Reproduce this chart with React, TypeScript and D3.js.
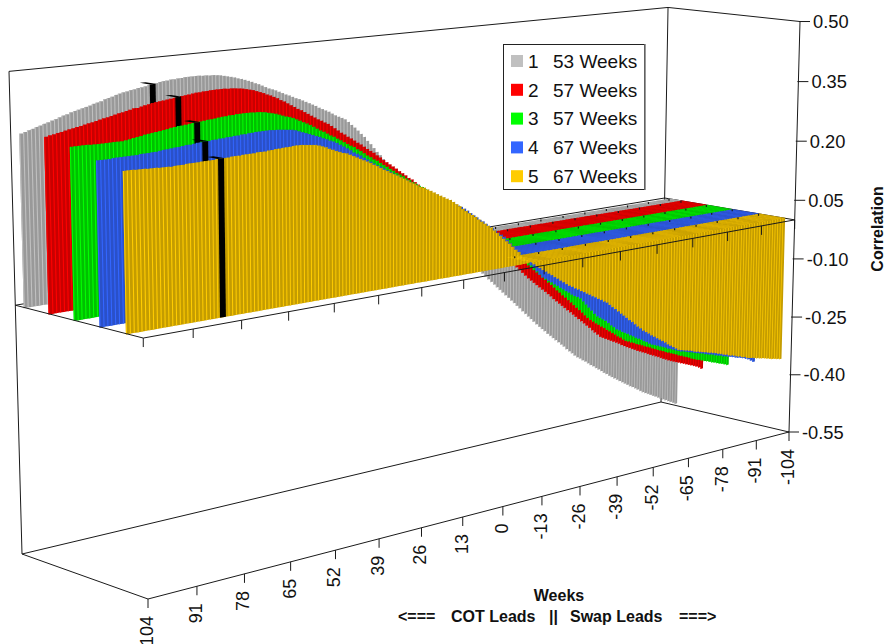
import React from "react";
import * as d3 from "d3";

const FONT = "'Liberation Sans', Arial, sans-serif";

const legendIds = ["1", "2", "3", "4", "5"];
const legendLabels = ["53 Weeks", "57 Weeks", "57 Weeks", "67 Weeks", "67 Weeks"];
const faceColors = ["#999999", "#C80000", "#00C000", "#2A50C8", "#C49C00"];
const lightColors = ["#C0C0C0", "#FF0000", "#00FF00", "#3366FF", "#FFCC00"];
const rowDepths = [0.085, 0.285, 0.485, 0.685, 0.885];
const markerWeeks = [69, 69, 71, 76, 79];
const weekTicks = [104, 91, 78, 65, 52, 39, 26, 13, 0, -13, -26, -39, -52, -65, -78, -91, -104];
const corrTicks = [0.5, 0.35, 0.2, 0.05, -0.1, -0.25, -0.4, -0.55];
const stripTickWeeks = [-16, -24, -32, -40, -48, -56, -64, -72, -80, -88, -96, -104];

// correlation x 1000, week 104 down to week -104
const series1 = [
373,375,378,380,383,385,388,390,393,395,398,401,403,
406,408,410,412,414,416,419,421,423,426,428,430,433,
435,437,438,440,441,443,444,445,447,448,449,451,452,
453,454,454,455,455,456,456,456,456,456,455,455,454,
454,453,452,450,448,446,444,441,439,436,433,430,426,
423,419,415,411,408,405,401,397,393,390,386,382,379,
375,371,367,363,359,354,350,346,342,337,332,328,324,
320,313,305,298,290,281,273,263,254,244,234,225,215,
205,196,187,179,170,161,151,142,133,124,115,105,97,
88,77,66,56,45,34,23,13,2,-9,-20,-31,-41,
-52,-60,-68,-77,-85,-93,-101,-110,-118,-126,-134,-142,-150,
-158,-166,-174,-182,-190,-198,-206,-215,-223,-231,-239,-247,-255,
-263,-270,-277,-285,-292,-299,-306,-313,-320,-327,-335,-342,-349,
-356,-362,-367,-373,-378,-384,-390,-395,-401,-406,-412,-418,-423,
-429,-434,-439,-444,-449,-454,-459,-464,-469,-473,-478,-483,-488,
-493,-497,-501,-505,-509,-513,-517,-521,-525,-529,-533,-537,-541,-545];
const series2 = [
376,378,379,381,382,384,386,387,389,390,392,394,395,
397,399,401,402,404,406,408,409,411,413,415,415,417,
419,420,422,423,424,425,426,427,428,429,430,431,432,
433,434,434,435,435,436,436,436,436,436,435,435,434,
433,432,430,428,426,423,420,417,413,410,406,402,397,
393,388,383,378,373,369,364,359,354,349,344,340,335,
331,325,319,313,307,302,296,291,285,279,274,268,262,
256,251,244,238,231,225,219,213,207,200,194,188,181,
176,169,162,155,148,141,135,129,122,115,108,101,95,
88,81,73,66,59,52,45,38,31,23,17,10,2,
-5,-13,-21,-29,-37,-45,-53,-61,-69,-77,-85,-93,-101,
-109,-116,-123,-130,-137,-144,-151,-158,-165,-173,-180,-187,-194,
-201,-208,-215,-222,-229,-236,-243,-250,-257,-264,-272,-279,-286,
-293,-297,-301,-305,-309,-313,-317,-321,-326,-330,-334,-338,-342,
-346,-350,-353,-357,-360,-364,-368,-371,-375,-378,-382,-386,-389,
-393,-396,-399,-402,-405,-408,-411,-414,-417,-420,-423,-426,-430,-435];
const series3 = [
365,365,365,365,365,364,364,364,364,364,364,364,364,
364,365,366,368,369,370,372,373,374,375,376,377,378,
380,381,382,382,383,384,385,385,386,387,388,388,389,
390,391,391,392,392,393,393,393,393,393,392,392,391,
390,388,386,384,381,378,375,373,370,366,362,358,354,
350,345,340,335,331,326,321,317,312,307,302,297,292,
288,282,277,271,265,260,254,250,244,238,233,227,222,
216,211,206,200,195,189,184,178,174,168,162,157,151,
146,140,135,129,123,117,110,104,98,93,87,81,74,
68,61,54,48,41,34,27,20,13,6,-2,-9,-17,
-25,-32,-39,-46,-53,-60,-67,-74,-81,-89,-96,-104,-111,
-119,-127,-134,-142,-149,-157,-164,-172,-180,-187,-195,-203,-211,
-218,-223,-229,-234,-240,-245,-251,-256,-262,-267,-273,-278,-284,
-289,-292,-296,-299,-303,-306,-309,-313,-316,-319,-323,-326,-330,
-333,-336,-340,-343,-346,-349,-352,-356,-359,-362,-365,-368,-372,
-375,-378,-380,-383,-386,-388,-391,-394,-396,-399,-402,-404,-407,-410];
const series4 = [
347,347,347,347,348,348,348,348,348,348,348,349,349,
349,350,350,351,352,352,353,354,354,355,356,356,357,
358,358,359,359,360,360,361,361,362,362,363,363,364,
364,365,365,366,366,366,366,366,365,365,364,363,362,
361,359,356,353,350,347,344,341,338,334,331,327,324,
320,315,310,305,300,294,290,285,279,274,268,263,258,
254,249,244,239,234,229,224,219,215,210,205,200,195,
190,185,180,177,172,167,162,158,153,148,143,139,135,
130,124,117,111,105,98,93,86,80,74,67,61,55,
49,40,31,23,14,5,-4,-12,-21,-30,-38,-47,-56,
-64,-69,-75,-80,-86,-91,-97,-102,-108,-113,-119,-124,-128,
-133,-141,-150,-159,-168,-177,-185,-190,-195,-200,-207,-214,-220,
-227,-231,-236,-240,-244,-249,-253,-258,-262,-266,-271,-275,-280,
-284,-287,-290,-293,-296,-299,-303,-306,-309,-312,-315,-318,-319,
-322,-324,-326,-329,-331,-333,-335,-338,-340,-342,-344,-347,-349,
-351,-354,-356,-358,-360,-362,-365,-367,-369,-371,-374,-377,-382,-387];
const series5 = [
336,336,336,335,335,335,334,334,334,333,333,333,332,
333,333,333,334,334,334,334,335,335,335,335,336,336,
336,336,337,337,337,338,338,338,338,339,339,339,340,
340,341,341,342,342,342,343,343,343,342,341,340,339,
337,334,331,327,324,320,317,314,312,308,304,300,296,
292,288,284,279,275,270,265,261,256,252,248,243,239,
234,229,225,220,215,212,207,203,198,193,189,184,180,
176,170,164,158,151,145,139,134,128,121,115,109,103,
98,90,83,75,67,60,53,45,37,30,22,15,8,
0,-5,-11,-16,-22,-27,-33,-38,-44,-49,-55,-60,-66,
-71,-75,-80,-84,-89,-93,-98,-102,-107,-111,-116,-120,-125,
-129,-136,-143,-149,-156,-163,-169,-176,-183,-189,-196,-203,-209,
-216,-221,-226,-232,-237,-242,-247,-252,-257,-263,-268,-273,-278,
-283,-285,-287,-289,-291,-293,-296,-298,-300,-302,-304,-306,-308,
-310,-312,-315,-317,-320,-322,-325,-327,-329,-332,-334,-337,-339,
-342,-344,-345,-347,-349,-351,-352,-354,-356,-358,-360,-361,-363,-365];
const allSeries = [series1, series2, series3, series4, series5];

type P = [number, number];

// Camera built from the floor corners (back-left, back-right, front-right, front-left)
// plus the two visible ceiling corners.
const fl: P[] = [[22, 554], [661, 402], [789, 432], [148, 599]];
const topBackLeft: P = [9, 72];
const topFrontRight: P = [800, 21];

function makeCamera() {
  const [p0, p1, p2, p3] = fl;
  const dx1 = p1[0] - p2[0], dx2 = p3[0] - p2[0], sx = p0[0] - p1[0] + p2[0] - p3[0];
  const dy1 = p1[1] - p2[1], dy2 = p3[1] - p2[1], sy = p0[1] - p1[1] + p2[1] - p3[1];
  const det = dx1 * dy2 - dx2 * dy1;
  const g = (sx * dy2 - dx2 * sy) / det;
  const h = (dx1 * sy - sx * dy1) / det;
  const a = p1[0] - p0[0] + g * p1[0], b = p3[0] - p0[0] + h * p3[0], c = p0[0];
  const d = p1[1] - p0[1] + g * p1[1], e = p3[1] - p0[1] + h * p3[1], f = p0[1];
  const X0 = c, Y0 = f, W0 = 1;
  const X1 = a + b + c, Y1 = d + e + f, W1 = g + h + 1;
  const [x0, y0] = topBackLeft;
  const [x1, y1] = topFrontRight;
  const i = (x1 * W1 - X1 - x0 * W0 + X0) / (x0 - x1);
  const cx = x0 * (W0 + i) - X0;
  const cy = (y0 * (W0 + i) - Y0 + y1 * (W1 + i) - Y1) / 2;
  return (u: number, v: number, t: number): P => {
    const w = g * u + h * v + i * t + 1;
    return [(a * u + b * v + cx * t + c) / w, (d * u + e * v + cy * t + f) / w];
  };
}
const camera = makeCamera();

const uScale = d3.scaleLinear().domain([104, -104]).range([0, 1]);
const tScale = d3.scaleLinear().domain([-0.55, 0.5]).range([0, 1]);

function project(week: number, depth: number, value: number): P {
  return camera(uScale(week), depth, tScale(value));
}
const rowProject = (week: number, depth: number, value: number): P =>
  project(week, depth + 0.035 * uScale(week), value);

const poly = (pts: P[]) => "M" + pts.map((p) => `${p[0].toFixed(2)},${p[1].toFixed(2)}`).join("L") + "Z";
const line = (a: P, b: P) => `M${a[0].toFixed(2)},${a[1].toFixed(2)}L${b[0].toFixed(2)},${b[1].toFixed(2)}`;

const BAR = 0.5;
const STRIP = 0.19;

function Row({ idx }: { idx: number }) {
  const values = allSeries[idx];
  const depth = rowDepths[idx];
  const dark: string[] = [];
  const light: string[] = [];
  const bk = Math.max(0, depth - STRIP);
  const rp = rowProject;
  values.forEach((m, i) => {
    const w = 104 - i;
    const v = m / 1000;
    const l = w + BAR, r = w - BAR, s = w + BAR - 0.28;
    dark.push(poly([rp(l, depth, 0), rp(l, depth, v), rp(r, depth, v), rp(r, depth, 0)]));
    light.push(poly([rp(l, depth, 0), rp(l, depth, v), rp(s, depth, v), rp(s, depth, 0)]));
    if (v < 0) {
      dark.push(poly([rp(l, bk, 0), rp(r, bk, 0), rp(r, depth, 0), rp(l, depth, 0)]));
      light.push(poly([rp(l, bk, 0), rp(s, bk, 0), rp(s, depth, 0), rp(l, depth, 0)]));
    }
  });
  const mw = markerWeeks[idx];
  const mv = values[104 - mw] / 1000;
  const ml = mw + 0.8, mr = mw - 0.8;
  const mb = depth - 0.08;
  return (
    <g>
      <path d={dark.join("")} fill={faceColors[idx]} />
      <path d={light.join("")} fill={lightColors[idx]} />
      <path d={poly([rp(ml, depth, 0), rp(ml, depth, mv), rp(mr, depth, mv), rp(mr, depth, 0)])} fill="#000" />
      <path d={poly([rp(ml, depth, mv), rp(ml, mb, mv), rp(mr, mb, mv), rp(mr, depth, mv)])} fill="#000" />
      {stripTickWeeks.map((w) => {
        const p = rp(w, bk, 0);
        return <path key={w} d={line(p, [p[0], p[1] + 2])} stroke="#1a1a1a" strokeWidth={1.2} fill="none" />;
      })}
    </g>
  );
}

const lineColor = "#1a1a1a";

export default function App() {
  const yTicks = corrTicks.map((c) => {
    const p = project(-104, 1, c);
    return { c, p };
  });
  return (
    <svg width={886} height={644} style={{ position: "fixed", left: 0, top: 0, background: "#fff" }} fontFamily={FONT}>
      {/* back frame */}
      <g stroke={lineColor} strokeWidth={1} fill="none">
        <path d={line(project(104, 0, 0.5), project(-104, 0, 0.5))} />
        <path d={line(project(-104, 0, 0.5), project(-104, 1, 0.5))} />
        <path d={line(project(104, 0, 0.5), project(104, 0, -0.55))} />
        <path d={line(project(-104, 0, 0.5), project(-104, 0, -0.55))} />
        <path d={line(project(104, 0, -0.55), project(-104, 0, -0.55))} />
        <path d={line(project(-104, 0, -0.55), project(-104, 1, -0.55))} />
        <path d={line(project(-104, 1, -0.55), project(104, 1, -0.55))} />
        <path d={line(project(104, 1, -0.55), project(104, 0, -0.55))} />
        <path d={line(project(104, 0, 0), project(-104, 0, 0))} />
        <path d={line(project(-104, 0, 0), project(-104, 1, 0))} />
      </g>
      {legendIds.map((_, i) => <Row key={i} idx={i} />)}
      {/* lines over the bars */}
      <g stroke={lineColor} strokeWidth={1} fill="none">
        <path d={line(project(104, 0, 0), project(104, 1, 0))} />
        <path d={line(project(104, 1, 0), project(-104, 1, 0))} />
        <path d={line(project(-104, 1, 0.5), project(-104, 1, -0.55))} />
        {weekTicks.map((w) => {
          const p = project(w, 1, 0);
          return <path key={w} d={line(p, [p[0], p[1] + 9])} />;
        })}
        {weekTicks.map((w) => {
          const p = project(w, 1, -0.55);
          return <path key={w} d={line(p, [p[0], p[1] + 9])} />;
        })}
        {yTicks.map(({ c, p }) => (
          <path key={c} d={line([p[0] - 1, p[1]], [p[0] + 10, p[1]])} />
        ))}
      </g>
      {/* y labels */}
      {yTicks.map(({ c, p }) => (
        <text key={c} x={p[0] + 13} y={p[1]} dy="0.36em" fontSize={18.3} fill="#111">
          {c.toFixed(2)}
        </text>
      ))}
      {/* x labels */}
      {weekTicks.map((w) => {
        const p = project(w, 1, -0.55);
        return (
          <text key={w} transform={`translate(${p[0] - 1.5},${p[1] + 17}) rotate(-90)`} dy="0.36em" textAnchor="end" fontSize={18} fill="#111">
            {w}
          </text>
        );
      })}
      {/* legend */}
      <rect x={503.5} y={44.5} width={141} height={145} fill="#fff" stroke="#222" strokeWidth={1} />
      <path d="M645,44V190" stroke="#777" strokeWidth={1.5} fill="none" />
      {legendIds.map((id, i) => {
        const y = 61 + i * 28.8;
        return (
          <g key={id}>
            <rect x={511} y={y - 6} width={12} height={12} fill={lightColors[i]} />
            <text x={528} y={y} dy="0.36em" fontSize={19} fill="#111">{id}</text>
            <text x={553} y={y} dy="0.36em" fontSize={19} fill="#111">{legendLabels[i]}</text>
          </g>
        );
      })}
      {/* titles */}
      <g fontWeight="bold" fontSize={16} fill="#111">
        <text x={559} y={601} textAnchor="middle">Weeks</text>
        <text x={398} y={622}>{"<==="}</text>
        <text x={451} y={622}>COT Leads</text>
        <text x={549} y={622}>||</text>
        <text x={570} y={622}>Swap Leads</text>
        <text x={679} y={622}>{"===>"}</text>
        <text transform="translate(877,229) rotate(-90)" textAnchor="middle" dy="0.36em">Correlation</text>
      </g>
    </svg>
  );
}
